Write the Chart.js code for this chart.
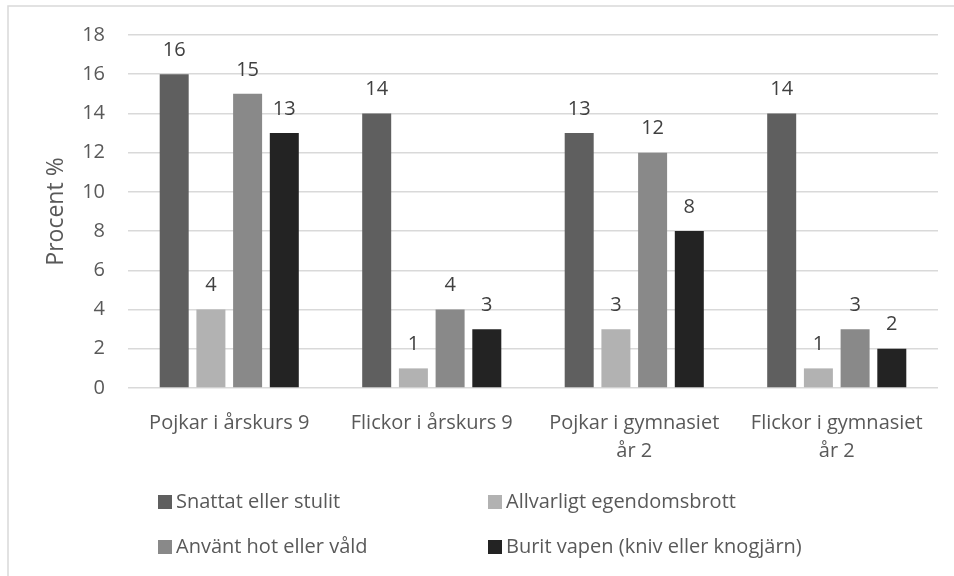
<!DOCTYPE html>
<html><head><meta charset="utf-8">
<script src="https://cdn.jsdelivr.net/npm/chart.js@4/dist/chart.umd.min.js"></script>
<style>html,body{margin:0;padding:0;background:#fff;}#wrap{position:relative;width:954px;height:576px;}</style>
</head><body><div id="wrap"><canvas id="c" width="954" height="576"></canvas></div>
<script>
const categories = [['Pojkar i årskurs 9'], ['Flickor i årskurs 9'], ['Pojkar i gymnasiet', 'år 2'], ['Flickor i gymnasiet', 'år 2']];
const seriesNames = ['Snattat eller stulit', 'Allvarligt egendomsbrott', 'Använt hot eller våld', 'Burit vapen (kniv eller knogjärn)'];
const snattat = [16, 14, 13, 14];
const allvarligt = [4, 1, 3, 1];
const hot = [15, 4, 12, 3];
const vapen = [13, 3, 8, 2];
const yMin = 0, yMax = 18, yStep = 2;
const yTitle = 'Procent %';

const colors = ['#5f5f5f', '#b2b2b2', '#898989', '#232323'];
const FONT = "'Open Sans', sans-serif";

const frame = {
  id: 'frame',
  beforeDraw(chart) {
    const ctx = chart.ctx;
    ctx.save();
    ctx.fillStyle = '#fff';
    ctx.fillRect(0, 0, chart.width, chart.height);
    ctx.strokeStyle = '#d9d9d9';
    ctx.lineWidth = 1.5;
    ctx.beginPath();
    ctx.moveTo(8, chart.height + 2);
    ctx.lineTo(8, 6);
    ctx.lineTo(chart.width + 2, 6);
    ctx.stroke();
    ctx.restore();
  }
};

const dataLabels = {
  id: 'dataLabels',
  afterDatasetsDraw(chart) {
    const ctx = chart.ctx;
    ctx.save();
    ctx.font = '20px ' + FONT;
    ctx.fillStyle = '#404040';
    ctx.textAlign = 'center';
    ctx.textBaseline = 'middle';
    chart.data.datasets.forEach((ds, i) => {
      chart.getDatasetMeta(i).data.forEach((el, j) => {
        ctx.fillText(String(ds.data[j]), el.x, el.y - 24);
      });
    });
    ctx.restore();
  }
};

const legendGrid = {
  id: 'legendGrid',
  afterDraw(chart) {
    const ctx = chart.ctx;
    const colX = [158, 488];
    const rowY = [502, 547];
    ctx.save();
    ctx.font = '20px ' + FONT;
    ctx.textBaseline = 'middle';
    ctx.textAlign = 'left';
    chart.data.datasets.forEach((ds, i) => {
      const x = colX[i % 2], y = rowY[Math.floor(i / 2)];
      ctx.fillStyle = ds.backgroundColor;
      ctx.fillRect(x, y - 7, 14, 14);
      ctx.fillStyle = '#595959';
      ctx.fillText(ds.label, x + 18, y);
    });
    ctx.restore();
  }
};

const seriesData = [snattat, allvarligt, hot, vapen];
new Chart(document.getElementById('c'), {
  type: 'bar',
  data: {
    labels: categories,
    datasets: seriesNames.map((n, i) => ({
      label: n,
      data: seriesData[i],
      backgroundColor: colors[i],
      categoryPercentage: 0.725,
      barPercentage: 0.79
    }))
  },
  options: {
    responsive: false,
    animation: false,
    devicePixelRatio: 1,
    layout: { padding: { top: 35, right: 16, left: 0, bottom: 0 } },
    plugins: { legend: { display: false }, tooltip: { enabled: false }, title: { display: false } },
    scales: {
      x: {
        grid: { display: false },
        border: { display: false },
        ticks: { color: '#595959', font: { family: FONT, size: 20, lineHeight: 1.4 }, padding: 13, maxRotation: 0, autoSkip: false },
        afterFit(s) { s.height = 188; }
      },
      y: {
        min: yMin, max: yMax,
        ticks: { stepSize: yStep, color: '#595959', font: { family: FONT, size: 20 }, padding: 23 },
        grid: { color: '#d9d9d9', lineWidth: 1.5, drawTicks: false },
        border: { display: false },
        title: { display: true, text: yTitle, color: '#595959', font: { family: FONT, size: 23 }, padding: { top: 43, bottom: 0 } },
        afterFit(s) { s.width = 128; }
      }
    }
  },
  plugins: [frame, dataLabels, legendGrid]
});
</script></body></html>
